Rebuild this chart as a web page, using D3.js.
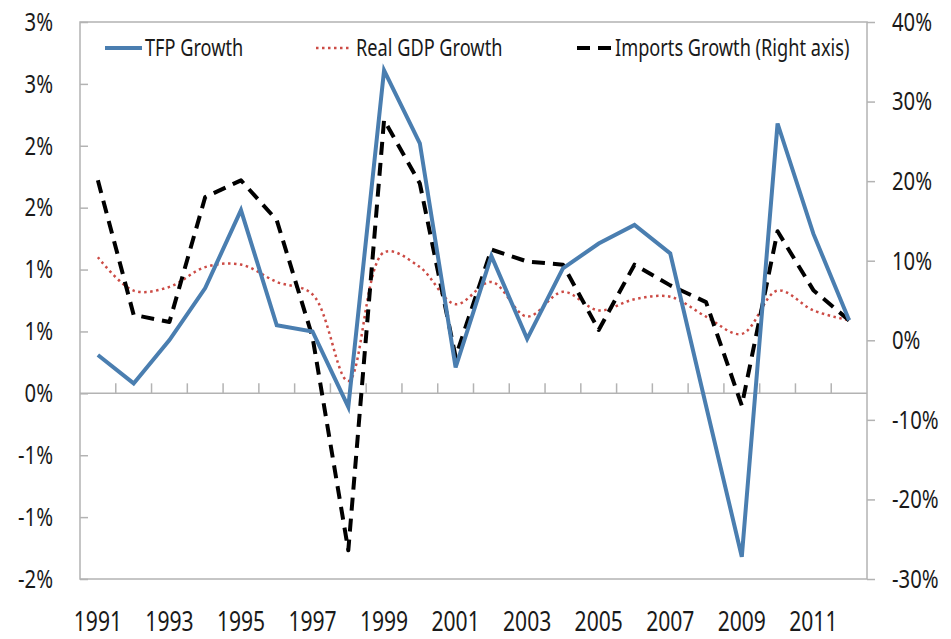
<!DOCTYPE html>
<html>
<head>
<meta charset="utf-8">
<script src="https://cdn.jsdelivr.net/npm/d3@7/dist/d3.min.js"></script>
<style>
  body { margin: 0; background: #fff; }
  svg text { font-family: "Noto Sans", "DejaVu Sans", sans-serif; fill: #1a1a1a; }
  .grey { stroke: #b3b3b3; stroke-width: 1.5; fill: none; }
</style>
</head>
<body>
<svg id="chart" width="951" height="639"></svg>
<script>
// Data
var years   = d3.range(1991, 2013).map(String)
var tfp     = [0.31, 0.08, 0.43, 0.85, 1.48, 0.55, 0.50, -0.11, 2.61, 2.02, 0.21, 1.11, 0.44, 1.01, 1.21, 1.36, 1.13, -0.10, -1.32, 2.18, 1.29, 0.59]
var gdp     = [1.10, 0.83, 0.86, 1.02, 1.04, 0.90, 0.80, 0.10, 1.14, 1.02, 0.72, 0.90, 0.62, 0.82, 0.67, 0.76, 0.78, 0.62, 0.48, 0.83, 0.67, 0.59]
var imports = [20.1, 3.2, 2.3, 18.0, 20.1, 15.1, 0.4, -26.4, 27.7, 19.7, -2.1, 11.4, 9.9, 9.5, 1.3, 9.5, 6.9, 4.8, -8.2, 13.7, 6.3, 2.5]

var leftTicks   = [-1.5, -1, -0.5, 0, 0.5, 1, 1.5, 2, 2.5, 3]
var leftLabels  = ["-2%", "-1%", "-1%", "0%", "1%", "1%", "2%", "2%", "3%", "3%"]
var rightTicks  = [-30, -20, -10, 0, 10, 20, 30, 40]
var xLabelYears = years.filter(function (d, i) { return i % 2 === 0 })

var series = [
  { name : "TFP Growth",                  key : "tfp" },
  { name : "Real GDP Growth",             key : "gdp" },
  { name : "Imports Growth (Right axis)", key : "imp" }
]

// Plot area edges (window.top is reserved, so prefix the names)
var pLeft = 80, pRight = 867, pTop = 22, pBottom = 579

var svg = d3.select("#chart")

var x  = d3.scaleBand().domain(years).range([pLeft, pRight])
var yL = d3.scaleLinear().domain([-1.5, 3]).range([pBottom, pTop])
var yR = d3.scaleLinear().domain([-30, 40]).range([pBottom, pTop])
var cx = function (i) { return x(years[i]) + x.bandwidth() / 2 }

// Plot border
svg.append("rect")
   .attr("class", "grey")
   .attr("x", pLeft).attr("y", pTop)
   .attr("width", pRight - pLeft).attr("height", pBottom - pTop)

// Left axis
var leftAxis = d3.axisLeft(yL)
  .tickValues(leftTicks)
  .tickFormat(function (d, i) { return leftLabels[i] })
  .tickSizeInner(-8).tickSizeOuter(0).tickPadding(27)
var gL = svg.append("g").attr("transform", "translate(" + pLeft + ",0)").call(leftAxis)

// Right axis
var rightAxis = d3.axisRight(yR)
  .tickValues(rightTicks)
  .tickFormat(function (d) { return d + "%" })
  .tickSizeInner(8).tickSizeOuter(0).tickPadding(17)
var gR = svg.append("g").attr("transform", "translate(" + pRight + ",0)").call(rightAxis)

;[gL, gR].forEach(function (g) {
  g.select(".domain").remove()
  g.selectAll(".tick line").attr("stroke", "#b3b3b3").attr("stroke-width", 1.5)
  g.selectAll(".tick text").style("font-size", "26px").attr("fill", "#1a1a1a")
})

// Category axis at zero, tick marks between years
var y0 = yL(0)
svg.append("line").attr("class", "grey")
   .attr("x1", pLeft).attr("x2", pRight).attr("y1", y0).attr("y2", y0)
svg.selectAll(".xtick")
   .data(years.slice(1))
   .enter().append("line")
     .attr("class", "grey xtick")
     .attr("x1", function (d) { return x(d) }).attr("x2", function (d) { return x(d) })
     .attr("y1", y0).attr("y2", y0 - 10)

svg.selectAll(".xlabel")
   .data(xLabelYears)
   .enter().append("text")
     .attr("class", "xlabel")
     .attr("x", function (d) { return x(d) + x.bandwidth() / 2 })
     .attr("y", 631)
     .attr("text-anchor", "middle")
     .style("font-size", "27px")
     .text(function (d) { return d })

// Lines
var lineL = d3.line().x(function (d, i) { return cx(i) }).y(function (d) { return yL(d) })
var lineR = d3.line().x(function (d, i) { return cx(i) }).y(function (d) { return yR(d) })
var smoothL = d3.line().curve(d3.curveCatmullRom.alpha(0.5))
  .x(function (d, i) { return cx(i) }).y(function (d) { return yL(d) })

svg.append("path").datum(gdp)
   .attr("d", smoothL)
   .attr("fill", "none").attr("stroke", "#cc4b45").attr("stroke-width", 2.5)
   .attr("stroke-dasharray", "2.5,3.5")

svg.append("path").datum(imports)
   .attr("d", lineR)
   .attr("fill", "none").attr("stroke", "#000").attr("stroke-width", 4)
   .attr("stroke-linejoin", "round")
   .attr("stroke-dasharray", "13,8")

svg.append("path").datum(tfp)
   .attr("d", lineL)
   .attr("fill", "none").attr("stroke", "#4a7eb0").attr("stroke-width", 4)
   .attr("stroke-linejoin", "miter")

// Legend
var legendY = 48
var legendItems = [
  { x1 : 105, x2 : 142, tx : 145, stroke : "#4a7eb0", width : 4,   dash : null },
  { x1 : 316, x2 : 351, tx : 356, stroke : "#cc4b45", width : 2.5, dash : "2.5,3.5" },
  { x1 : 577, x2 : 615, tx : 615, stroke : "#000",    width : 4,   dash : "13,8" }
]
legendItems.forEach(function (l, i) {
  svg.append("line")
     .attr("x1", l.x1).attr("x2", l.x2).attr("y1", legendY).attr("y2", legendY)
     .attr("stroke", l.stroke).attr("stroke-width", l.width)
     .attr("stroke-dasharray", l.dash)
  svg.append("text")
     .attr("class", "legend")
     .attr("x", l.tx).attr("y", legendY + 8)
     .style("font-size", "23px")
     .text(series[i].name)
})

// Squeeze text to the narrow look of the original
svg.selectAll("text").each(function () {
  var w = this.getComputedTextLength()
  var f = this.getAttribute("class") === "legend" ? 0.79 : 0.78
  d3.select(this).attr("textLength", w * f).attr("lengthAdjust", "spacingAndGlyphs")
})
</script>
</body>
</html>
